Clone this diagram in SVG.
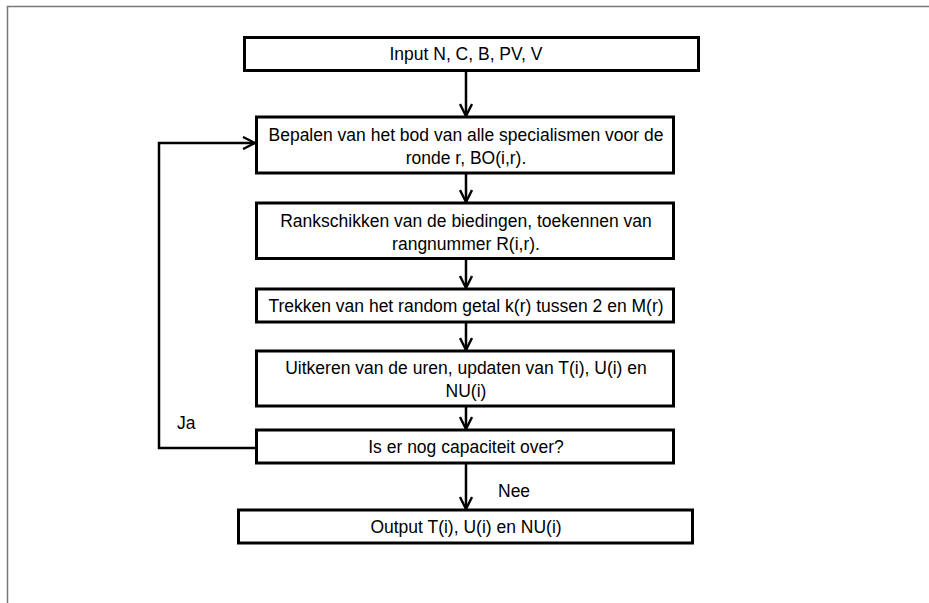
<svg xmlns="http://www.w3.org/2000/svg" width="929" height="603" viewBox="0 0 929 603">
<defs>
<style>
.box{fill:#fff;stroke:#000;stroke-width:3}
.t{font-family:"Liberation Sans",Arial,sans-serif;font-size:17.5px;fill:#000;text-anchor:middle}
.l{font-family:"Liberation Sans",Arial,sans-serif;font-size:17.5px;fill:#000}
.c{fill:none;stroke:#000;stroke-width:2.5}
</style>
<marker id="ah" viewBox="0 0 14 14" refX="13" refY="7" markerWidth="14" markerHeight="14" markerUnits="userSpaceOnUse" orient="auto">
<path d="M1,1 L13,7 L1,13" fill="none" stroke="#000" stroke-width="2.4"/>
</marker>
</defs>
<rect x="0" y="0" width="929" height="603" fill="#fff"/>
<path d="M7.5,620 L7.5,6.5 L940,6.5" fill="none" stroke="#777" stroke-width="1.5"/>
<g id="connectors">
<line class="c" x1="466" y1="70" x2="466" y2="116" marker-end="url(#ah)"/>
<line class="c" x1="466" y1="173" x2="466" y2="202" marker-end="url(#ah)"/>
<line class="c" x1="466" y1="259" x2="466" y2="288" marker-end="url(#ah)"/>
<line class="c" x1="466" y1="322" x2="466" y2="350" marker-end="url(#ah)"/>
<line class="c" x1="466" y1="406" x2="466" y2="429" marker-end="url(#ah)"/>
<line class="c" x1="466" y1="463" x2="466" y2="509" marker-end="url(#ah)"/>
<polyline class="c" points="256,448 159,448 159,143 255,143" marker-end="url(#ah)"/>
<text class="l" x="177" y="429">Ja</text>
<text class="l" x="498" y="497">Nee</text>
</g>
<g id="n1"><rect class="box" x="244.5" y="37.5" width="454" height="33"/><text class="t" x="466" y="60">Input N, C, B, PV, V</text></g>
<g id="n2"><rect class="box" x="256.5" y="117" width="417" height="56"/><text class="t" x="466" y="141">Bepalen van het bod van alle specialismen voor de</text><text class="t" x="466" y="164">ronde r, BO(i,r).</text></g>
<g id="n3"><rect class="box" x="256.5" y="203" width="417" height="55.5"/><text class="t" x="466" y="227">Rankschikken van de biedingen, toekennen van</text><text class="t" x="466" y="250">rangnummer R(i,r).</text></g>
<g id="n4"><rect class="box" x="256.5" y="289" width="417" height="33"/><text class="t" x="466" y="312">Trekken van het random getal k(r) tussen 2 en M(r)</text></g>
<g id="n5"><rect class="box" x="256.5" y="351" width="417" height="55"/><text class="t" x="466" y="374">Uitkeren van de uren, updaten van T(i), U(i) en</text><text class="t" x="466" y="397">NU(i)</text></g>
<g id="n6"><rect class="box" x="256.5" y="430" width="417" height="33"/><text class="t" x="466" y="453">Is er nog capaciteit over?</text></g>
<g id="n7"><rect class="box" x="238.5" y="510" width="454" height="33"/><text class="t" x="466" y="533">Output T(i), U(i) en NU(i)</text></g>
</svg>
